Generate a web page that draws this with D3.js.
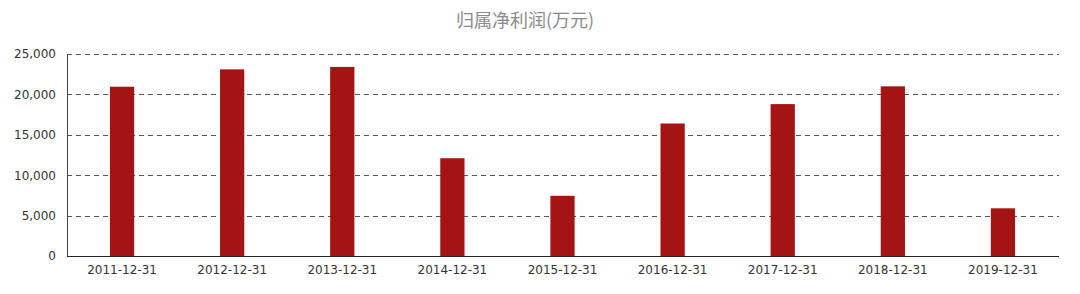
<!DOCTYPE html>
<html><head><meta charset="utf-8">
<script src="https://cdn.jsdelivr.net/npm/d3@7"></script>
<style>body{margin:0;background:#fff}svg{display:block}</style>
</head><body>
<script>
const categories = ["2011-12-31","2012-12-31","2013-12-31","2014-12-31","2015-12-31","2016-12-31","2017-12-31","2018-12-31","2019-12-31"];
const values = [20950, 23100, 23400, 12100, 7450, 16400, 18800, 21000, 5900];
const yTicks = [0, 5000, 10000, 15000, 20000, 25000];
const title = "归属净利润(万元)";

const W = 1080, H = 294;
const svg = d3.select("body").append("svg").attr("width", W).attr("height", H);
const x = d3.scaleBand().domain(categories).range([67, 1058]).paddingInner(0.78).paddingOuter(0.39);
const y = d3.scaleLinear().domain([0, 25000]).range([256, 54]);
const fmt = d3.format(",");

svg.append("text").attr("x", 525).attr("y", 27).attr("text-anchor", "middle")
  .attr("font-family", "Noto Sans CJK SC").attr("font-size", 18).attr("fill", "#8a8a8a").text(title);

// grid
svg.append("g").selectAll("line").data(yTicks.filter(d => d > 0)).join("line")
  .attr("x1", 67).attr("x2", 1059).attr("y1", d => Math.round(y(d)) + 0.5).attr("y2", d => Math.round(y(d)) + 0.5)
  .attr("stroke", "#555").attr("stroke-width", 1.2).attr("stroke-dasharray", "5,4");

// bars
svg.append("g").selectAll("rect").data(values).join("rect")
  .attr("x", (d, i) => x(categories[i])).attr("width", x.bandwidth())
  .attr("y", d => y(d)).attr("height", d => y(0) - y(d)).attr("fill", "#a51414");

// y axis
const ya = svg.append("g").attr("transform", "translate(67,0)")
  .call(d3.axisLeft(y).tickValues(yTicks).tickFormat(fmt).tickSize(0).tickPadding(11));
ya.select(".domain").attr("stroke", "#444");
ya.selectAll("text").attr("font-family", "DejaVu Sans").attr("font-size", 12).attr("fill", "#333");

// x axis
const xa = svg.append("g").attr("transform", "translate(0,256)")
  .call(d3.axisBottom(x).tickSize(0).tickPadding(9));
xa.select(".domain").attr("stroke", "#222").attr("d", "M67,0.5H1059");
xa.selectAll("text").attr("font-family", "DejaVu Sans").attr("font-size", 12).attr("fill", "#333");
</script>
</body></html>
